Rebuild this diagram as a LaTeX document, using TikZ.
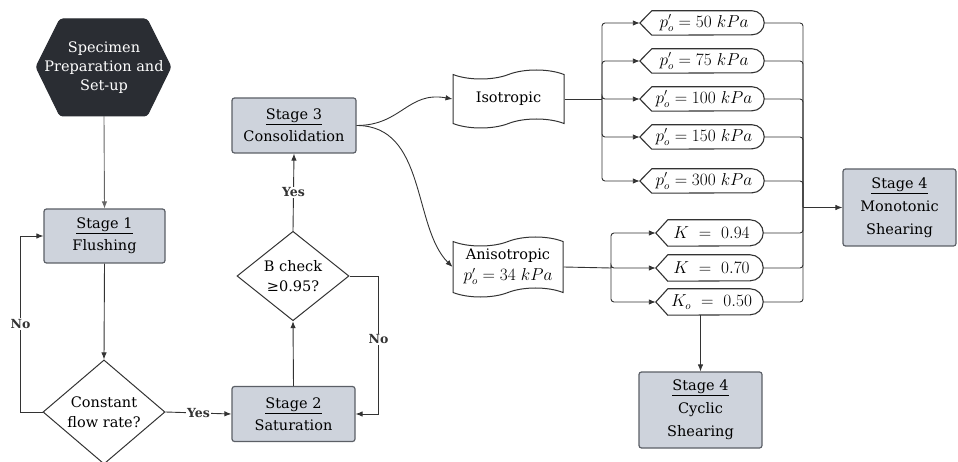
\documentclass[tikz,border=0pt]{standalone}
\usepackage{fontspec}
\setmainfont{DejaVu Serif}
\usetikzlibrary{arrows.meta,shapes.geometric,shapes.symbols,calc}
\definecolor{stagefill}{HTML}{CED3DC}
\definecolor{stageline}{HTML}{5B5F66}
\definecolor{hexfill}{HTML}{2A2D33}
\definecolor{wire}{HTML}{333333}
\newcommand\dispframe[2]{%
  \draw[wire, line width=1.1pt, fill=white] (#1.west) -- ($(#1.north west)+(12,0)$) -- ($(#1.north east)+(-#2,0)$)
    arc[start angle=-90, end angle=90, radius=#2] -- ($(#1.south west)+(12,0)$) -- cycle;}
\begin{document}
\begin{tikzpicture}[x=1pt,y=-1pt,
  font=\fontsize{14.5}{22}\selectfont,
  stagebox/.style={draw=stageline, fill=stagefill, line width=1.2pt, rounded corners=2.5pt, align=center, inner sep=0pt},
  decision/.style={draw=wire, line width=1pt, diamond, inner sep=0pt, align=center, font=\fontsize{14.5}{20}\selectfont},
  wave/.style={draw=wire, line width=1pt, tape, tape bend top=in and out, tape bend bottom=in and out, tape bend height=9pt, inner sep=0pt, align=center},
  disp/.style={inner sep=0pt, font=\fontsize{16}{18}\selectfont},
  conn/.style={wire, line width=0.9pt},
  arr/.style={conn, -{Latex[length=7pt,width=5.5pt]}},
  lbl/.style={fill=white, inner sep=1pt, font=\bfseries\fontsize{12.5}{14}\selectfont}]
\useasboundingbox (0,0) rectangle (958,462);

% start hexagon
\fill[hexfill, draw=hexfill, line width=1pt, rounded corners=3pt] (36,67) -- (60,19) -- (147,19) -- (171,67) -- (147,116) -- (60,116) -- cycle;
\node[minimum width=135pt, minimum height=97pt, inner sep=0pt, text=white, align=center, font=\fontsize{14.5}{19}\selectfont] (hex) at (104,67.5) {Specimen\\Preparation and\\Set-up};

\node[stagebox, minimum width=121pt, minimum height=54pt] (s1) at (104.5,236) {\underline{Stage 1}\\Flushing};
\node[decision, minimum width=122pt, minimum height=98pt] (d1) at (104,412) {Constant\\flow rate?};
\node[stagebox, minimum width=123pt, minimum height=55pt] (s2) at (293.5,414) {\underline{Stage 2}\\Saturation};
\node[decision, minimum width=112pt, minimum height=86pt] (d2) at (293,276) {B check\\≥0.95?};
\node[stagebox, minimum width=124pt, minimum height=55pt] (s3) at (294,125.5) {\underline{Stage 3}\\Consolidation};

\node[wave, minimum width=111pt, minimum height=58pt] (iso) at (508.5,99) {Isotropic};
\node[wave, minimum width=110pt, minimum height=60pt, font=\fontsize{14.5}{19}\selectfont] (ani) at (508,267) {Anisotropic\\[2pt]\fontsize{16}{18}\selectfont$p_o' = 34\ kPa$};

% pressure nodes
\foreach \n/\y/\v in {p1/23/50, p2/61/75, p3/99/100, p4/137/150, p5/181/300}{
  \node[disp, minimum width=124pt, minimum height=24pt] (\n) at (702,\y) {};
  \dispframe{\n}{12}
  \node[disp] at ($(\n.center)+(2,0)$) {$p_o' = \v\ kPa$};
}
\node[disp, minimum width=107pt, minimum height=26pt] (k1) at (709.5,233) {};
\dispframe{k1}{13}
\node[disp] at ($(k1.center)+(2,0)$) {$K\ =\ 0.94$};
\node[disp, minimum width=107pt, minimum height=26pt] (k2) at (709.5,268) {};
\dispframe{k2}{13}
\node[disp] at ($(k2.center)+(2,0)$) {$K\ =\ 0.70$};
\node[disp, minimum width=107pt, minimum height=26pt] (k3) at (709.5,302) {};
\dispframe{k3}{13}
\node[disp] at ($(k3.center)+(2,0)$) {$K_o\ =\ 0.50$};

\node[stagebox, minimum width=113pt, minimum height=77pt, font=\fontsize{14.5}{23}\selectfont] (mono) at (899.5,207.5) {\underline{Stage 4}\\Monotonic\\Shearing};
\node[stagebox, minimum width=123pt, minimum height=76pt, font=\fontsize{14.5}{23}\selectfont] (cyc) at (700.5,410) {\underline{Stage 4}\\Cyclic\\Shearing};

% connectors
\draw[arr, draw=gray!80!black] (hex.south) -- (s1.north);
\draw[arr] (s1.south) -- (d1.north);
\draw[arr] (d1.west) -- ++(-22,0) |- (s1.west) node[lbl, pos=0.25] {No};
\draw[arr] (d1.east) -- (s2.west) node[lbl, midway] {Yes};
\draw[arr] (s2.north) -- (d2.south);
\draw[arr] (d2.east) -- ++(29,0) |- (s2.east) node[lbl, pos=0.23] {No};
\draw[arr] (d2.north) -- (s3.south) node[lbl, midway] {Yes};

\draw[arr] (s3.east) .. controls +(45,0) and +(-45,-8) .. (iso.west);
\draw[arr] (s3.east) .. controls +(70,0) and +(-40,-40) .. (ani.west);

\coordinate (jI) at (602,99);
\draw[conn] (iso.east) -- (jI);
\foreach \n in {p1,p2,p3,p4,p5} \draw[arr, rounded corners=3pt] (jI) |- (\n.west);

\coordinate (jA) at (611,268);
\draw[conn] (ani.east) -- (jA);
\foreach \n in {k1,k2,k3} \draw[arr, rounded corners=3pt] (jA) |- (\n.west);

\coordinate (jM) at (803,207.5);
\foreach \n in {p1,p2,p3,p4,p5,k1,k2,k3} \draw[conn, rounded corners=3pt] (\n.east) -| (jM);
\draw[arr] (jM) -- (mono.west);

\draw[arr] (cyc.north |- k3.south) -- (cyc.north);
\end{tikzpicture}
\end{document}
